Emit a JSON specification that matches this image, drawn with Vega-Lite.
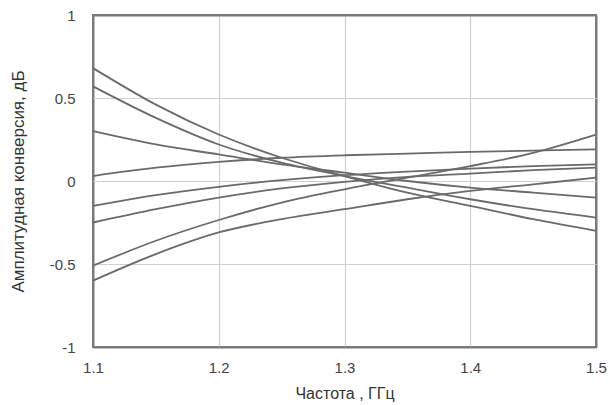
{
  "$schema": "https://vega.github.io/schema/vega-lite/v6.json",
  "width": 503,
  "height": 332,
  "autosize": "none",
  "padding": {"left": 93, "top": 15, "right": 14, "bottom": 58},
  "background": "white",
  "config": {
    "view": {"stroke": "#7a7a7a", "strokeWidth": 2},
    "font": "Liberation Sans"
  },
  "data": {
    "values": [
      {"f": 1.1, "c": "L1", "v": 0.68}, {"f": 1.15, "c": "L1", "v": 0.46}, {"f": 1.2, "c": "L1", "v": 0.28}, {"f": 1.25, "c": "L1", "v": 0.14}, {"f": 1.3, "c": "L1", "v": 0.03}, {"f": 1.35, "c": "L1", "v": -0.07}, {"f": 1.4, "c": "L1", "v": -0.15}, {"f": 1.45, "c": "L1", "v": -0.23}, {"f": 1.5, "c": "L1", "v": -0.30},
      {"f": 1.1, "c": "L2", "v": 0.57}, {"f": 1.15, "c": "L2", "v": 0.38}, {"f": 1.2, "c": "L2", "v": 0.22}, {"f": 1.25, "c": "L2", "v": 0.11}, {"f": 1.3, "c": "L2", "v": 0.03}, {"f": 1.35, "c": "L2", "v": -0.04}, {"f": 1.4, "c": "L2", "v": -0.11}, {"f": 1.45, "c": "L2", "v": -0.17}, {"f": 1.5, "c": "L2", "v": -0.22},
      {"f": 1.1, "c": "L3", "v": 0.30}, {"f": 1.15, "c": "L3", "v": 0.22}, {"f": 1.2, "c": "L3", "v": 0.16}, {"f": 1.25, "c": "L3", "v": 0.10}, {"f": 1.3, "c": "L3", "v": 0.05}, {"f": 1.35, "c": "L3", "v": 0.0}, {"f": 1.4, "c": "L3", "v": -0.04}, {"f": 1.45, "c": "L3", "v": -0.07}, {"f": 1.5, "c": "L3", "v": -0.10},
      {"f": 1.1, "c": "L4", "v": 0.03}, {"f": 1.15, "c": "L4", "v": 0.08}, {"f": 1.2, "c": "L4", "v": 0.115}, {"f": 1.25, "c": "L4", "v": 0.14}, {"f": 1.3, "c": "L4", "v": 0.155}, {"f": 1.35, "c": "L4", "v": 0.165}, {"f": 1.4, "c": "L4", "v": 0.175}, {"f": 1.45, "c": "L4", "v": 0.183}, {"f": 1.5, "c": "L4", "v": 0.19},
      {"f": 1.1, "c": "L5", "v": -0.15}, {"f": 1.15, "c": "L5", "v": -0.085}, {"f": 1.2, "c": "L5", "v": -0.035}, {"f": 1.25, "c": "L5", "v": 0.005}, {"f": 1.3, "c": "L5", "v": 0.035}, {"f": 1.35, "c": "L5", "v": 0.057}, {"f": 1.4, "c": "L5", "v": 0.075}, {"f": 1.45, "c": "L5", "v": 0.09}, {"f": 1.5, "c": "L5", "v": 0.10},
      {"f": 1.1, "c": "L6", "v": -0.25}, {"f": 1.15, "c": "L6", "v": -0.17}, {"f": 1.2, "c": "L6", "v": -0.10}, {"f": 1.25, "c": "L6", "v": -0.045}, {"f": 1.3, "c": "L6", "v": -0.005}, {"f": 1.35, "c": "L6", "v": 0.025}, {"f": 1.4, "c": "L6", "v": 0.045}, {"f": 1.45, "c": "L6", "v": 0.065}, {"f": 1.5, "c": "L6", "v": 0.08},
      {"f": 1.1, "c": "L7", "v": -0.51}, {"f": 1.15, "c": "L7", "v": -0.36}, {"f": 1.2, "c": "L7", "v": -0.235}, {"f": 1.25, "c": "L7", "v": -0.13}, {"f": 1.3, "c": "L7", "v": -0.05}, {"f": 1.35, "c": "L7", "v": 0.02}, {"f": 1.4, "c": "L7", "v": 0.09}, {"f": 1.45, "c": "L7", "v": 0.17}, {"f": 1.5, "c": "L7", "v": 0.28},
      {"f": 1.1, "c": "L8", "v": -0.60}, {"f": 1.15, "c": "L8", "v": -0.44}, {"f": 1.2, "c": "L8", "v": -0.31}, {"f": 1.25, "c": "L8", "v": -0.23}, {"f": 1.3, "c": "L8", "v": -0.17}, {"f": 1.35, "c": "L8", "v": -0.11}, {"f": 1.4, "c": "L8", "v": -0.06}, {"f": 1.45, "c": "L8", "v": -0.02}, {"f": 1.5, "c": "L8", "v": 0.02}
    ]
  },
  "mark": {"type": "line", "interpolate": "monotone", "color": "#6a6a6a", "strokeWidth": 1.8},
  "encoding": {
    "x": {
      "field": "f", "type": "quantitative",
      "scale": {"domain": [1.1, 1.5], "nice": false, "zero": false},
      "axis": {
        "values": [1.1, 1.2, 1.3, 1.4, 1.5], "format": ".1f", "labelFlush": false,
        "title": "Частота , ГГц", "titleFont": "Liberation Sans", "titleFontSize": 16, "titleFontWeight": "normal", "titleColor": "#333",
        "titlePadding": 10,
        "labelFontSize": 15, "labelColor": "#444", "labelPadding": 13,
        "ticks": false, "domain": false,
        "grid": true,
        "gridColor": {"condition": {"test": "datum.value < 1.15 || datum.value > 1.45", "value": "#7a7a7a"}, "value": "#d0d0d0"},
        "gridWidth": {"condition": {"test": "datum.value < 1.15 || datum.value > 1.45", "value": 2}, "value": 1.2}
      }
    },
    "y": {
      "field": "v", "type": "quantitative",
      "scale": {"domain": [-1, 1], "nice": false},
      "axis": {
        "values": [-1, -0.5, 0, 0.5, 1], "labelExpr": "'' + datum.value", "labelFlush": false,
        "title": "Амплитудная конверсия, дБ", "titleFont": "Liberation Sans", "titleFontSize": 17, "titleFontWeight": "normal", "titleColor": "#333",
        "titlePadding": 22,
        "labelFontSize": 15, "labelColor": "#444", "labelPadding": 18,
        "ticks": false, "domain": false,
        "grid": true,
        "gridColor": {"condition": {"test": "abs(datum.value) > 0.9", "value": "#7a7a7a"}, "value": "#d0d0d0"},
        "gridWidth": {"condition": {"test": "abs(datum.value) > 0.9", "value": 2}, "value": 1.2}
      }
    },
    "detail": {"field": "c", "type": "nominal"}
  }
}
